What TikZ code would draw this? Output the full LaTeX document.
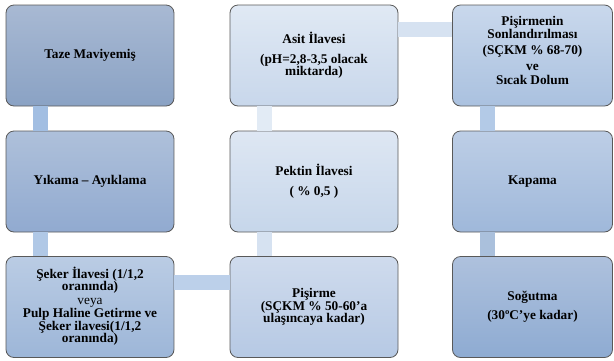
\documentclass[tikz,border=0pt]{standalone}
\usepackage{fontspec}
\setmainfont{Liberation Serif}
\usetikzlibrary{positioning}
\definecolor{barA}{HTML}{A2BEE2}
\definecolor{barB}{HTML}{BCD0EA}
\definecolor{barC}{HTML}{D6E2F1}
\definecolor{barD}{HTML}{B3CAE7}
% 方框的上下颜色
\definecolor{tazeT}{HTML}{A8B9D3}\definecolor{tazeB}{HTML}{8AA2C4}
\definecolor{yikamaT}{HTML}{AEC0DA}\definecolor{yikamaB}{HTML}{91AAD0}
\definecolor{sekerT}{HTML}{BACCE4}\definecolor{sekerB}{HTML}{9DB6D8}
\definecolor{pisirmeT}{HTML}{CFDBED}\definecolor{pisirmeB}{HTML}{B6C9E4}
\definecolor{pektinT}{HTML}{DEE7F3}\definecolor{pektinB}{HTML}{C6D6EA}
\definecolor{asitT}{HTML}{E0E9F4}\definecolor{asitB}{HTML}{C8D7EB}
\definecolor{sonT}{HTML}{C9D8EC}\definecolor{sonB}{HTML}{AAC1DF}
\definecolor{kapamaT}{HTML}{BDCEE6}\definecolor{kapamaB}{HTML}{9FB8DA}
\definecolor{sogutmaT}{HTML}{AEC1DD}\definecolor{sogutmaB}{HTML}{8EABD2}
\tikzset{
    stepbox/.style={draw=black!65, line width=0.8pt, rounded corners=8pt,
        minimum width=168pt, minimum height=101pt, align=center,
        font=\fontsize{13.3}{12.4}\selectfont\bfseries}, % 定义方框的样式
    shade box/.style={top color=#1T, bottom color=#1B}, % 定义渐变色
    bar/.style={line width=15pt} % 定义连接条的样式
}
\begin{document}
\begin{tikzpicture}[x=1pt, y=-1pt]
    \useasboundingbox (0,0) rectangle (614,360);
    % --- 1. 三列方框 ---
    \node[stepbox, shade box=taze] (taze) at (90,55.5) {Taze Maviyemiş};
    \node[stepbox, shade box=yikama] (yikama) at (90,181.5) {Yıkama – Ayıklama};
    \node[stepbox, shade box=seker] (seker) at (90,307) {Şeker İlavesi (1/1,2\\oranında)\\[1pt]
        \mdseries veya\\[1.5pt] Pulp Haline Getirme ve\\Şeker ilavesi(1/1,2\\oranında)\\[-8pt]\mbox{}};
    \node[stepbox, shade box=pisirme] (pisirme) at (314,307) {Pişirme\\(SÇKM \% 50-60’a\\ulaşıncaya kadar)};
    \node[stepbox, shade box=pektin] (pektin) at (314,181.5) {Pektin İlavesi\\[8pt]( \% 0,5 )};
    \node[stepbox, shade box=asit] (asit) at (314,55.5) {Asit İlavesi\\[7pt](pH=2,8-3,5 olacak\\miktarda)};
    \node[stepbox, minimum width=160pt, shade box=son] (sonlandirma) at (532.5,55.5)
        {Pişirmenin\\Sonlandırılması\\[4pt](SÇKM \% 68-70)\\[3pt]ve\\[2pt]Sıcak Dolum\\[-2.4pt]\mbox{}};
    \node[stepbox, minimum width=160pt, shade box=kapama] (kapama) at (532.5,181.5) {Kapama};
    \node[stepbox, minimum width=160pt, shade box=sogutma] (sogutma) at (532.5,307) {Soğutma\\[7pt](30ºC’ye kadar)};

    % --- 2. 连接条 ---
    \draw[bar, barA] ([xshift=35pt]taze.south west) -- ([xshift=35pt]yikama.north west);
    \draw[bar, barA!85!white] ([xshift=35pt]yikama.south west) -- ([xshift=35pt]seker.north west);
    \draw[bar, barB] ([yshift=-26pt]seker.north east) -- ([yshift=-26pt]pisirme.north west);
    \draw[bar, barC] ([xshift=35pt]pisirme.north west) -- ([xshift=35pt]pektin.south west);
    \draw[bar, barC!70!white] ([xshift=35pt]pektin.north west) -- ([xshift=35pt]asit.south west);
    \draw[bar, barC] ([yshift=-25pt]asit.north east) -- ([yshift=-25pt]sonlandirma.north west);
    \draw[bar, barD] ([xshift=35pt]sonlandirma.south west) -- ([xshift=35pt]kapama.north west);
    \draw[bar, barD!95!black] ([xshift=35pt]kapama.south west) -- ([xshift=35pt]sogutma.north west);
\end{tikzpicture}
\end{document}
